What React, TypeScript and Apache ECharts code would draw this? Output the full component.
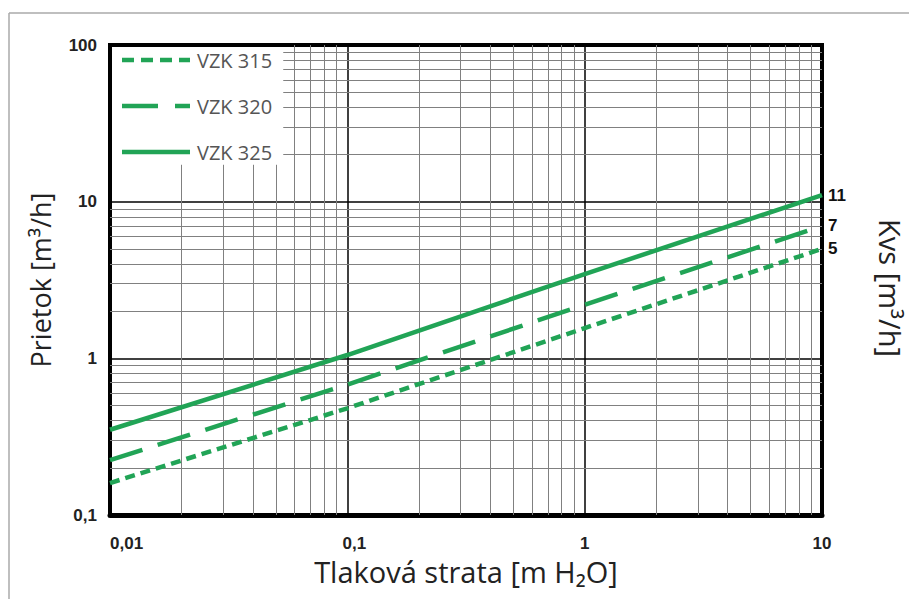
import React, { useEffect, useRef } from "react";
import * as echarts from "echarts";

const pressureDrop = [0.01, 0.1, 1, 10];
const vzk315 = [0.16, 0.48, 1.56, 5];
const vzk320 = [0.224, 0.68, 2.2, 7];
const vzk325 = [0.35, 1.05, 3.45, 11];
const seriesNames = ["VZK 315", "VZK 320", "VZK 325"];
const kvsValues = [5, 7, 11];
const xTicks = [0.01, 0.1, 1, 10];
const xMinor = [0.02, 0.03, 0.04, 0.05, 0.06, 0.07, 0.08, 0.09, 0.2, 0.3, 0.4, 0.5, 0.6, 0.7, 0.8, 0.9, 2, 3, 4, 5, 6, 7, 8, 9];
const yMinor = [0.2, 0.3, 0.4, 0.5, 0.6, 0.7, 0.8, 0.9, 2, 3, 4, 5, 6, 7, 8, 9, 20, 30, 40, 50, 60, 70, 80, 90];

const GREEN = "#21a456";
const X_MIN = 0.01, X_MAX = 10, Y_MIN = 0.1, Y_MAX = 100;
// legend box edges in data units (where the minor grid stops)
const LEGEND_X_EDGE = 0.0537;
const LEGEND_Y_EDGE = 17.2;

export default function App() {
  const ref = useRef<HTMLDivElement>(null);
  useEffect(() => {
    if (!ref.current) return;
    const chart = echarts.init(ref.current, null, { renderer: "svg" });
    const mk = (vals: number[]) => pressureDrop.map((x, i) => [x, vals[i]]);
    const dashes: any[] = [[10, 6], [34, 16], "solid"];
    const legendDash: any[] = [[12, 7], [36, 17], null];
    const datas = [vzk315, vzk320, vzk325];
    const lineSeries = seriesNames.map((name, i) => ({
      name,
      type: "line",
      data: mk(datas[i]),
      symbol: "none",
      z: 10,
      lineStyle: { color: GREEN, width: 4.5, type: dashes[i] },
      itemStyle: { color: GREEN },
      endLabel: {
        show: true,
        formatter: () => String(kvsValues[i]),
        color: "#111",
        fontWeight: "bold",
        fontSize: 17,
        fontFamily: "Liberation Sans",
        distance: 6,
      },
    }));
    const gridLines: any[] = [];
    xMinor.forEach((v) => {
      const top = v < LEGEND_X_EDGE ? LEGEND_Y_EDGE : Y_MAX;
      gridLines.push([{ coord: [v, Y_MIN] }, { coord: [v, top] }]);
    });
    yMinor.forEach((v) => {
      const left = v > LEGEND_Y_EDGE ? LEGEND_X_EDGE : X_MIN;
      gridLines.push([{ coord: [left, v] }, { coord: [X_MAX, v] }]);
    });
    const gridSeries = {
      type: "line",
      data: [],
      z: 1,
      silent: true,
      markLine: {
        silent: true,
        symbol: "none",
        label: { show: false },
        animation: false,
        lineStyle: { color: "#808080", width: 1, type: "solid" },
        data: gridLines,
      },
    };
    const fmt = (v: number) => String(v).replace(".", ",");
    const xFmt = (v: number) => {
      const s = fmt(v);
      if (v === xTicks[1]) return "{s|" + s + "}";
      return s;
    };
    const labelFont = {
      color: "#222",
      fontWeight: "bold",
      fontSize: 17,
      fontFamily: "Liberation Sans",
    };
    const graphics: any[] = [
      { type: "line", z: 0, shape: { x1: 9, y1: 13, x2: 909, y2: 13 }, style: { stroke: "#aaa", lineWidth: 1.5 } },
      { type: "line", z: 0, shape: { x1: 9, y1: 13, x2: 9, y2: 599 }, style: { stroke: "#aaa", lineWidth: 1.5 } },
      {
        type: "text",
        z: 5,
        x: 890,
        y: 288,
        rotation: -Math.PI / 2,
        style: {
          text: "Kvs [m³/h]",
          fontSize: 29,
          fill: "#222",
          fontFamily: "Open Sans",
          align: "center",
          verticalAlign: "middle",
        },
      },
    ];
    seriesNames.forEach((name, i) => {
      const y = 60 + 46 * i;
      graphics.push({
        type: "line",
        z: 20,
        shape: { x1: 122, y1: y, x2: 190, y2: y },
        style: { stroke: GREEN, lineWidth: 4.5, lineDash: legendDash[i] },
      });
      graphics.push({
        type: "text",
        z: 20,
        x: 197,
        y,
        style: {
          text: name,
          fontSize: 20,
          fill: "#555",
          fontFamily: "Open Sans",
          verticalAlign: "middle",
        },
      });
    });
    chart.setOption({
      animation: false,
      backgroundColor: "#fff",
      grid: {
        left: 110,
        right: 87,
        top: 45,
        bottom: 84,
        show: true,
        borderColor: "#000",
        borderWidth: 4,
      },
      xAxis: {
        type: "log",
        logBase: 10,
        min: X_MIN,
        max: X_MAX,
        z: 3,
        name: "Tlaková strata [m H₂O]",
        nameLocation: "middle",
        nameGap: 42,
        nameTextStyle: { fontSize: 29, color: "#222", fontFamily: "Open Sans" },
        axisLine: { show: true, onZero: false, lineStyle: { color: "#000", width: 5 } },
        axisTick: { show: false },
        axisLabel: {
          ...labelFont,
          formatter: xFmt,
          margin: 20,
          alignMinLabel: "left",
          rich: { s: { ...labelFont, padding: [0, 0, 0, 14] } },
        },
        splitLine: { show: true, lineStyle: { color: "#000", width: 1.5 } },
      },
      yAxis: {
        type: "log",
        logBase: 10,
        min: Y_MIN,
        max: Y_MAX,
        z: 3,
        name: "Prietok [m³/h]",
        nameLocation: "middle",
        nameGap: 56,
        nameTextStyle: { fontSize: 27, color: "#222", fontFamily: "Open Sans" },
        axisLine: { show: true, onZero: false, lineStyle: { color: "#000", width: 4 } },
        axisTick: { show: false },
        axisLabel: {
          ...labelFont,
          formatter: fmt,
          margin: 13,
          padding: [0, 0, 9, 0],
        },
        splitLine: { show: true, lineStyle: { color: "#000", width: 1.5 } },
      },
      graphic: graphics,
      series: [gridSeries, ...lineSeries],
    });
    return () => chart.dispose();
  }, []);
  return <div ref={ref} style={{ width: 909, height: 599, position: "absolute", left: 0, top: 0 }} />;
}
